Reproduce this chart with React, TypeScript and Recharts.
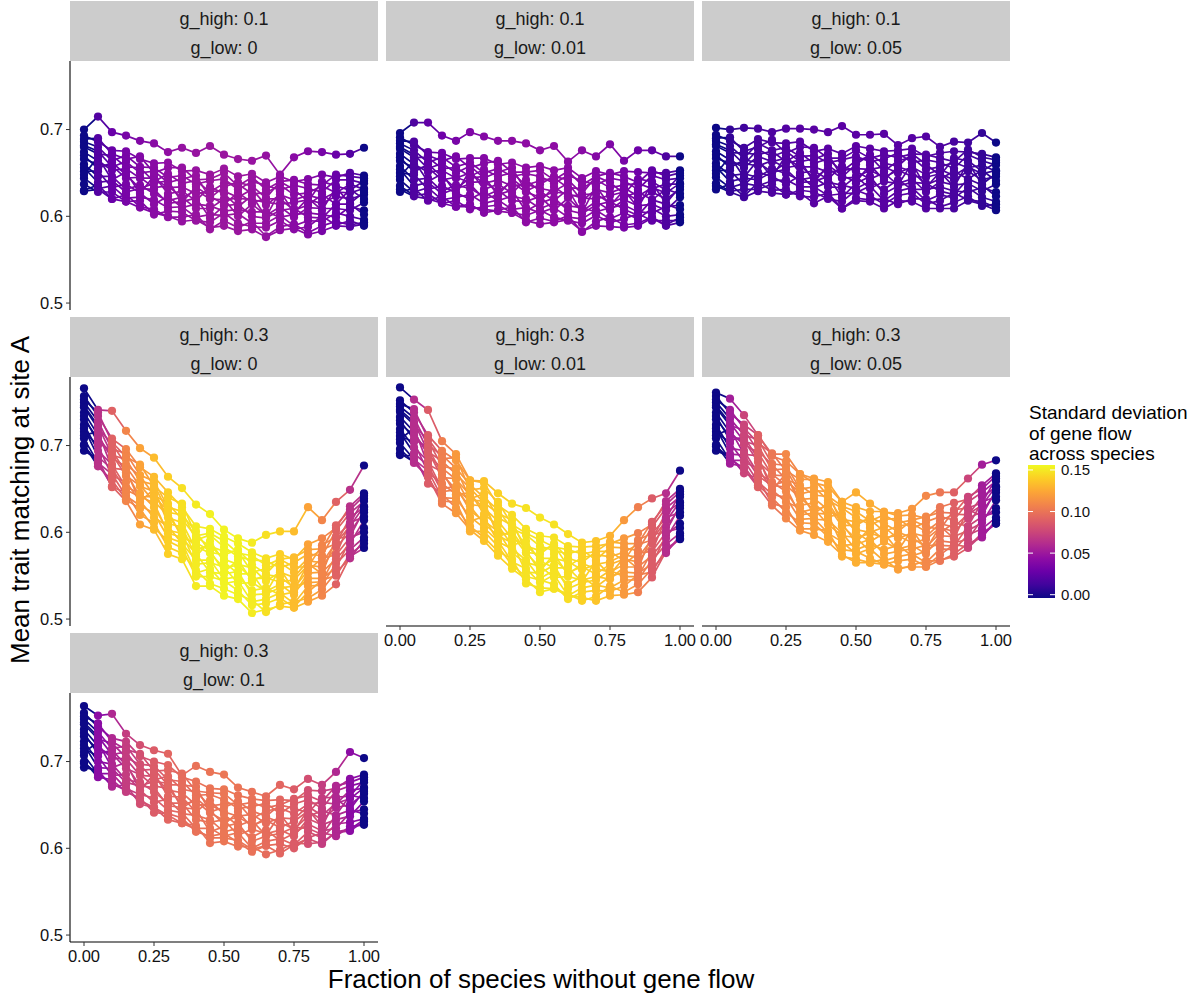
import React from "react";
import { ComposedChart, Line, XAxis, YAxis } from "recharts";

// ---------------- data ----------------
const FRACTION = [0, 0.05, 0.1, 0.15, 0.2, 0.25, 0.3, 0.35, 0.4, 0.45, 0.5, 0.55, 0.6, 0.65, 0.7, 0.75, 0.8, 0.85, 0.9, 0.95, 1];
const X_TICKS = [0, 0.25, 0.5, 0.75, 1];
const Y_TICKS = [0.5, 0.6, 0.7];
const LEGEND_TICKS = [0, 0.05, 0.1, 0.15];
const G_HIGH = ["0.1", "0.1", "0.1", "0.3", "0.3", "0.3", "0.3"];
const G_LOW = ["0", "0.01", "0.05", "0", "0.01", "0.05", "0.1"];

// standard deviation of gene flow across species (x1000), per fraction
const SD_1 = [0, 22, 30, 36, 40, 43, 46, 48, 49, 50, 50, 50, 49, 48, 46, 43, 40, 36, 30, 22, 0];
const SD_2 = [0, 20, 27, 32, 36, 39, 41, 43, 44, 45, 45, 45, 44, 43, 41, 39, 36, 32, 27, 20, 0];
const SD_3 = [0, 11, 15, 18, 20, 22, 23, 24, 24, 25, 25, 25, 24, 24, 23, 22, 20, 18, 15, 11, 0];
const SD_4 = [0, 65, 90, 107, 120, 130, 137, 143, 147, 149, 150, 149, 147, 143, 137, 130, 120, 107, 90, 65, 0];
const SD_5 = [0, 63, 87, 104, 116, 126, 133, 138, 142, 144, 145, 144, 142, 138, 133, 126, 116, 104, 87, 63, 0];
const SD_6 = [0, 54, 75, 89, 100, 108, 115, 119, 122, 124, 125, 124, 122, 119, 115, 108, 100, 89, 75, 54, 0];
const SD_7 = [0, 44, 60, 71, 80, 87, 92, 95, 98, 99, 100, 99, 98, 95, 92, 87, 80, 71, 60, 44, 0];

// mean trait matching at site A (x1000), one row per replicate
const REP_1 = [
  [700, 715, 697, 693, 687, 684, 674, 679, 673, 681, 671, 666, 664, 670, 648, 668, 675, 674, 671, 672, 679],
  [630, 636, 620, 625, 611, 608, 599, 599, 602, 585, 595, 587, 594, 577, 588, 591, 581, 589, 594, 590, 593],
  [644, 632, 635, 621, 622, 619, 610, 611, 599, 602, 601, 603, 592, 592, 601, 589, 595, 594, 604, 600, 596],
  [652, 652, 633, 637, 627, 614, 623, 610, 614, 612, 606, 608, 605, 605, 599, 602, 604, 602, 599, 611, 607],
  [660, 646, 646, 631, 636, 626, 618, 622, 609, 609, 620, 600, 614, 601, 611, 599, 610, 609, 609, 607, 616],
  [666, 660, 658, 644, 645, 633, 635, 621, 630, 620, 619, 621, 619, 616, 614, 616, 619, 615, 623, 620, 625],
  [674, 664, 653, 655, 644, 644, 633, 634, 626, 629, 629, 622, 631, 613, 625, 619, 624, 620, 628, 627, 632],
  [680, 672, 670, 657, 656, 640, 649, 638, 641, 628, 638, 637, 626, 627, 636, 625, 627, 635, 627, 637, 631],
  [686, 680, 664, 670, 657, 656, 645, 647, 637, 641, 643, 631, 640, 636, 630, 636, 632, 628, 642, 642, 638],
  [693, 686, 676, 675, 666, 661, 662, 652, 653, 648, 655, 646, 649, 639, 646, 640, 643, 648, 645, 650, 647],
  [629, 631, 620, 617, 610, 604, 600, 594, 596, 587, 589, 583, 585, 576, 584, 586, 579, 583, 589, 588, 591],
  [637, 628, 628, 617, 618, 602, 606, 605, 595, 593, 604, 592, 588, 587, 595, 585, 588, 600, 590, 595, 589],
  [656, 639, 641, 628, 632, 631, 615, 617, 621, 598, 612, 614, 600, 598, 607, 609, 599, 598, 614, 614, 602],
  [670, 655, 662, 648, 632, 638, 641, 616, 634, 623, 614, 627, 616, 620, 620, 607, 613, 625, 614, 631, 620],
  [648, 668, 642, 651, 626, 647, 626, 629, 618, 634, 626, 611, 624, 599, 629, 604, 621, 607, 633, 615, 628],
  [682, 675, 657, 663, 650, 652, 639, 643, 647, 621, 634, 639, 635, 621, 640, 631, 617, 640, 635, 630, 641],
  [689, 690, 672, 666, 669, 650, 656, 656, 642, 643, 650, 635, 645, 631, 640, 642, 637, 636, 648, 646, 644],
];
const REP_2 = [
  [696, 708, 708, 693, 687, 697, 692, 687, 687, 684, 676, 681, 663, 676, 669, 683, 664, 676, 676, 669, 669],
  [628, 632, 618, 623, 611, 614, 604, 607, 611, 593, 598, 594, 601, 582, 594, 599, 590, 592, 599, 590, 599],
  [642, 628, 633, 619, 622, 625, 615, 619, 608, 610, 604, 610, 599, 597, 607, 597, 604, 597, 609, 600, 602],
  [650, 648, 631, 635, 627, 620, 628, 618, 623, 620, 609, 615, 612, 610, 605, 610, 613, 605, 604, 611, 613],
  [658, 642, 644, 629, 636, 632, 623, 630, 618, 617, 623, 607, 621, 606, 617, 607, 619, 612, 614, 607, 622],
  [664, 656, 656, 642, 645, 639, 640, 629, 639, 628, 622, 628, 626, 621, 620, 624, 628, 618, 628, 620, 631],
  [672, 660, 651, 653, 644, 650, 638, 642, 635, 637, 632, 629, 638, 618, 631, 627, 633, 623, 633, 627, 638],
  [678, 668, 668, 655, 656, 646, 654, 646, 650, 636, 641, 644, 633, 632, 642, 633, 636, 638, 632, 637, 637],
  [684, 676, 662, 668, 657, 662, 650, 655, 646, 649, 646, 638, 647, 641, 636, 644, 641, 631, 647, 642, 644],
  [691, 682, 674, 673, 666, 667, 667, 660, 662, 656, 658, 653, 656, 644, 652, 648, 652, 651, 650, 650, 653],
  [631, 623, 620, 615, 611, 611, 608, 606, 604, 595, 591, 593, 596, 583, 589, 588, 587, 589, 598, 589, 593],
  [635, 624, 626, 615, 618, 608, 611, 613, 604, 601, 607, 599, 595, 592, 601, 593, 597, 603, 595, 595, 595],
  [654, 635, 639, 626, 632, 637, 620, 625, 630, 606, 615, 621, 607, 603, 613, 617, 608, 601, 619, 614, 608],
  [668, 651, 660, 646, 632, 644, 646, 624, 643, 631, 617, 634, 623, 625, 626, 615, 622, 628, 619, 631, 626],
  [646, 664, 640, 649, 626, 653, 631, 637, 627, 642, 629, 618, 631, 604, 635, 612, 630, 610, 638, 615, 634],
  [680, 671, 655, 661, 650, 658, 644, 651, 656, 629, 637, 646, 642, 626, 646, 639, 626, 643, 640, 630, 647],
  [687, 686, 670, 664, 669, 656, 661, 664, 651, 651, 653, 642, 652, 636, 646, 650, 646, 639, 653, 646, 650],
];
const REP_3 = [
  [702, 700, 702, 701, 697, 701, 701, 700, 697, 704, 694, 694, 695, 682, 690, 692, 680, 686, 685, 696, 685],
  [631, 637, 623, 639, 630, 631, 623, 622, 627, 609, 621, 619, 620, 614, 620, 620, 611, 616, 623, 612, 614],
  [645, 633, 638, 635, 641, 642, 634, 634, 624, 626, 627, 635, 618, 629, 633, 618, 625, 621, 633, 622, 617],
  [653, 653, 636, 651, 646, 637, 647, 633, 639, 636, 632, 640, 631, 642, 631, 631, 634, 629, 628, 633, 628],
  [661, 647, 649, 645, 655, 649, 642, 645, 634, 633, 646, 632, 640, 638, 643, 628, 640, 636, 638, 629, 637],
  [667, 661, 661, 658, 664, 656, 659, 644, 655, 644, 645, 653, 645, 653, 646, 645, 649, 642, 652, 642, 646],
  [675, 665, 656, 669, 663, 667, 657, 657, 651, 653, 655, 654, 657, 650, 657, 648, 654, 647, 657, 649, 653],
  [681, 673, 673, 671, 675, 663, 673, 661, 666, 652, 664, 669, 652, 664, 668, 654, 657, 662, 656, 659, 652],
  [687, 681, 667, 684, 676, 679, 669, 670, 662, 665, 669, 663, 666, 673, 662, 665, 662, 655, 671, 664, 659],
  [694, 687, 679, 689, 685, 684, 686, 675, 678, 672, 681, 678, 675, 676, 678, 669, 673, 675, 674, 672, 668],
  [635, 628, 622, 629, 627, 625, 627, 615, 623, 609, 618, 617, 609, 618, 617, 609, 609, 609, 618, 614, 607],
  [638, 629, 631, 631, 637, 625, 630, 628, 620, 617, 630, 624, 614, 624, 627, 614, 618, 627, 619, 617, 610],
  [657, 640, 644, 642, 651, 654, 639, 640, 646, 622, 638, 646, 626, 635, 639, 638, 629, 625, 643, 636, 623],
  [671, 656, 665, 662, 651, 661, 665, 639, 659, 647, 640, 659, 642, 657, 652, 636, 643, 652, 643, 653, 641],
  [649, 669, 645, 665, 645, 670, 650, 652, 643, 658, 652, 643, 650, 636, 661, 633, 651, 634, 662, 637, 649],
  [683, 676, 660, 677, 669, 675, 663, 666, 672, 645, 660, 671, 661, 658, 672, 660, 647, 667, 664, 652, 662],
  [690, 691, 675, 680, 688, 673, 680, 679, 667, 667, 676, 667, 671, 668, 672, 671, 667, 663, 677, 668, 665],
];
const REP_4 = [
  [766, 741, 740, 717, 697, 686, 664, 651, 632, 621, 603, 593, 588, 597, 601, 601, 629, 614, 635, 649, 677],
  [694, 684, 652, 646, 620, 611, 583, 576, 556, 541, 535, 528, 522, 508, 517, 520, 524, 534, 554, 570, 591],
  [708, 680, 667, 642, 631, 622, 594, 588, 553, 558, 541, 544, 520, 523, 530, 518, 538, 539, 564, 580, 594],
  [716, 700, 665, 658, 636, 617, 607, 587, 568, 568, 546, 549, 533, 536, 528, 531, 547, 547, 559, 591, 605],
  [724, 694, 678, 652, 645, 629, 602, 599, 563, 565, 560, 541, 542, 532, 540, 528, 553, 554, 569, 587, 614],
  [730, 708, 690, 665, 654, 636, 619, 598, 584, 576, 559, 562, 547, 547, 543, 545, 562, 560, 583, 600, 623],
  [738, 712, 685, 676, 653, 647, 617, 611, 580, 585, 569, 563, 559, 544, 554, 548, 567, 565, 588, 607, 630],
  [744, 720, 702, 678, 665, 643, 633, 615, 595, 584, 578, 578, 554, 558, 565, 554, 570, 580, 587, 617, 629],
  [750, 728, 696, 691, 666, 659, 629, 624, 591, 597, 583, 572, 568, 567, 559, 565, 575, 573, 602, 622, 636],
  [757, 734, 708, 696, 675, 664, 646, 629, 607, 604, 595, 587, 577, 570, 575, 569, 586, 593, 605, 630, 645],
  [700, 680, 653, 636, 609, 603, 575, 569, 538, 538, 527, 523, 507, 511, 515, 513, 520, 527, 540, 572, 582],
  [701, 676, 660, 638, 627, 605, 590, 582, 549, 549, 544, 533, 516, 518, 524, 514, 531, 545, 550, 575, 587],
  [720, 687, 673, 649, 641, 634, 599, 594, 575, 554, 552, 555, 528, 529, 536, 538, 542, 543, 574, 594, 600],
  [734, 703, 694, 669, 641, 641, 625, 593, 588, 579, 554, 568, 544, 551, 549, 536, 556, 570, 574, 611, 618],
  [712, 716, 674, 672, 635, 650, 610, 606, 572, 590, 566, 552, 552, 530, 558, 533, 564, 552, 593, 595, 626],
  [746, 723, 689, 684, 659, 655, 623, 620, 601, 577, 574, 580, 563, 552, 569, 560, 560, 585, 595, 610, 639],
  [753, 738, 704, 687, 678, 653, 640, 633, 596, 599, 590, 576, 573, 562, 569, 571, 580, 581, 608, 626, 642],
];
const REP_5 = [
  [767, 753, 741, 705, 690, 660, 659, 645, 633, 628, 617, 609, 598, 588, 590, 596, 614, 629, 639, 645, 671],
  [689, 688, 656, 644, 628, 607, 594, 578, 569, 541, 536, 535, 529, 521, 526, 538, 531, 540, 558, 576, 596],
  [703, 684, 671, 640, 639, 618, 605, 590, 566, 558, 542, 551, 527, 536, 539, 536, 545, 545, 568, 586, 599],
  [711, 704, 669, 656, 644, 613, 618, 589, 581, 568, 547, 556, 540, 549, 537, 549, 554, 553, 563, 597, 610],
  [719, 698, 682, 650, 653, 625, 613, 601, 576, 565, 561, 548, 549, 545, 549, 546, 560, 560, 573, 593, 619],
  [725, 712, 694, 663, 662, 632, 630, 600, 597, 576, 560, 569, 554, 560, 552, 563, 569, 566, 587, 606, 628],
  [733, 716, 689, 674, 661, 643, 628, 613, 593, 585, 570, 570, 566, 557, 563, 566, 574, 571, 592, 613, 635],
  [739, 724, 706, 676, 673, 639, 644, 617, 608, 584, 579, 585, 561, 571, 574, 572, 577, 586, 591, 623, 634],
  [745, 732, 700, 689, 674, 655, 640, 626, 604, 597, 584, 579, 575, 580, 568, 583, 582, 579, 606, 628, 641],
  [752, 738, 712, 694, 683, 660, 657, 631, 620, 604, 596, 594, 584, 583, 584, 587, 593, 599, 609, 636, 650],
  [691, 681, 664, 633, 622, 603, 590, 573, 558, 546, 531, 535, 527, 525, 521, 527, 528, 531, 548, 578, 593],
  [696, 680, 664, 636, 635, 601, 601, 584, 562, 549, 545, 540, 523, 531, 533, 532, 538, 551, 554, 581, 592],
  [715, 691, 677, 647, 649, 630, 610, 596, 588, 554, 553, 562, 535, 542, 545, 556, 549, 549, 578, 600, 605],
  [729, 707, 698, 667, 649, 637, 636, 595, 601, 579, 555, 575, 551, 564, 558, 554, 563, 576, 578, 617, 623],
  [707, 720, 678, 670, 643, 646, 621, 608, 585, 590, 567, 559, 559, 543, 567, 551, 571, 558, 597, 601, 631],
  [741, 727, 693, 682, 667, 651, 634, 622, 614, 577, 575, 587, 570, 565, 578, 578, 567, 591, 599, 616, 644],
  [748, 742, 708, 685, 686, 649, 651, 635, 609, 599, 591, 583, 580, 575, 578, 589, 587, 587, 612, 632, 647],
];
const REP_6 = [
  [761, 754, 735, 712, 690, 690, 667, 662, 658, 635, 646, 633, 623, 622, 627, 642, 646, 646, 662, 678, 683],
  [694, 687, 668, 662, 633, 629, 604, 604, 602, 572, 569, 565, 569, 557, 562, 567, 567, 575, 587, 594, 614],
  [708, 683, 683, 658, 644, 640, 615, 616, 599, 589, 575, 581, 567, 572, 575, 565, 581, 580, 597, 604, 617],
  [716, 703, 681, 674, 649, 635, 628, 615, 614, 599, 580, 586, 580, 585, 573, 578, 590, 588, 592, 615, 628],
  [724, 697, 694, 668, 658, 647, 623, 627, 609, 596, 594, 578, 589, 581, 585, 575, 596, 595, 602, 611, 637],
  [730, 711, 706, 681, 667, 654, 640, 626, 630, 607, 593, 599, 594, 596, 588, 592, 605, 601, 616, 624, 646],
  [738, 715, 701, 692, 666, 665, 638, 639, 626, 616, 603, 600, 606, 593, 599, 595, 610, 606, 621, 631, 653],
  [744, 723, 718, 694, 678, 661, 654, 643, 641, 615, 612, 615, 601, 607, 610, 601, 613, 621, 620, 641, 652],
  [750, 731, 712, 707, 679, 677, 650, 652, 637, 628, 617, 609, 615, 616, 604, 612, 618, 614, 635, 646, 659],
  [757, 737, 724, 712, 688, 682, 667, 657, 653, 635, 629, 624, 624, 619, 620, 616, 629, 634, 638, 654, 668],
  [699, 685, 673, 652, 631, 616, 602, 597, 589, 574, 565, 565, 563, 559, 560, 560, 568, 572, 582, 597, 610],
  [701, 679, 676, 654, 640, 623, 611, 610, 595, 580, 578, 570, 563, 567, 569, 561, 574, 586, 583, 599, 610],
  [720, 690, 689, 665, 654, 652, 620, 622, 621, 585, 586, 592, 575, 578, 581, 585, 585, 584, 607, 618, 623],
  [734, 706, 710, 685, 654, 659, 646, 621, 634, 610, 588, 605, 591, 600, 594, 583, 599, 611, 607, 635, 641],
  [712, 719, 690, 688, 648, 668, 631, 634, 618, 621, 600, 589, 599, 579, 603, 580, 607, 593, 626, 619, 649],
  [746, 726, 705, 700, 672, 673, 644, 648, 647, 608, 608, 617, 610, 601, 614, 607, 603, 626, 628, 634, 662],
  [753, 741, 720, 703, 691, 671, 661, 661, 642, 630, 624, 613, 620, 611, 614, 618, 623, 622, 641, 650, 665],
];
const REP_7 = [
  [764, 753, 755, 732, 719, 713, 709, 684, 695, 688, 685, 670, 665, 660, 673, 668, 680, 673, 688, 711, 704],
  [693, 690, 671, 673, 651, 647, 633, 629, 626, 606, 608, 602, 602, 593, 598, 606, 605, 607, 618, 620, 631],
  [707, 686, 686, 669, 662, 658, 644, 641, 623, 623, 614, 618, 600, 608, 611, 604, 619, 612, 628, 630, 634],
  [715, 706, 684, 685, 667, 653, 657, 640, 638, 633, 619, 623, 613, 621, 609, 617, 628, 620, 623, 641, 645],
  [723, 700, 697, 679, 676, 665, 652, 652, 633, 630, 633, 615, 622, 617, 621, 614, 634, 627, 633, 637, 654],
  [729, 714, 709, 692, 685, 672, 669, 651, 654, 641, 632, 636, 627, 632, 624, 631, 643, 633, 647, 650, 663],
  [737, 718, 704, 703, 684, 683, 667, 664, 650, 650, 642, 637, 639, 629, 635, 634, 648, 638, 652, 657, 670],
  [743, 726, 721, 705, 696, 679, 683, 668, 665, 649, 651, 652, 634, 643, 646, 640, 651, 653, 651, 667, 669],
  [749, 734, 715, 718, 697, 695, 679, 677, 661, 662, 656, 646, 648, 652, 640, 651, 656, 646, 666, 672, 676],
  [756, 740, 727, 723, 706, 700, 696, 682, 677, 669, 668, 661, 657, 655, 656, 655, 667, 666, 669, 680, 685],
  [698, 686, 674, 667, 655, 647, 638, 629, 622, 612, 612, 609, 599, 603, 594, 604, 611, 605, 619, 622, 633],
  [700, 682, 679, 665, 658, 641, 640, 635, 619, 614, 617, 607, 596, 603, 605, 600, 612, 618, 614, 625, 627],
  [719, 693, 692, 676, 672, 670, 649, 647, 645, 619, 625, 629, 608, 614, 617, 624, 623, 616, 638, 644, 640],
  [733, 709, 713, 696, 672, 677, 675, 646, 658, 644, 627, 642, 624, 636, 630, 622, 637, 643, 638, 661, 658],
  [711, 722, 693, 699, 666, 686, 660, 659, 642, 655, 639, 626, 632, 615, 639, 619, 645, 625, 657, 645, 666],
  [745, 729, 708, 711, 690, 691, 673, 673, 671, 642, 647, 654, 643, 637, 650, 646, 641, 658, 659, 660, 679],
  [752, 744, 723, 714, 709, 689, 690, 686, 666, 664, 663, 650, 653, 647, 650, 657, 661, 654, 672, 676, 682],
];

const SDS = [SD_1, SD_2, SD_3, SD_4, SD_5, SD_6, SD_7];
const REPS = [REP_1, REP_2, REP_3, REP_4, REP_5, REP_6, REP_7];

// ---------------- styling / layout ----------------
const FONT = "'Liberation Sans', Arial, Helvetica, sans-serif";
const PANEL_LEFT = [70, 386, 702];
const STRIP_TOP = [1, 317, 633];
const STRIP_H = 60;
const PANEL_W = 308;
const PANEL_H = 249;
const Y_AXIS_W = 70;
const X_AXIS_H = 34;
const PAD = 22;
const X_DOMAIN = [-0.05, 1.05];
const Y_DOMAIN = [0.492, 0.779];
const SD_MAX = 0.152;
const DOT_R = 4.1;
const LINE_W = 1.7;

const PLASMA = ["#0d0887", "#41049d", "#6a00a8", "#8f0da4", "#b12a90", "#cc4778", "#e16462", "#f2844b", "#fca636", "#fcce25", "#f0f921"];

function hexRgb(h: string) {
  return [parseInt(h.slice(1, 3), 16), parseInt(h.slice(3, 5), 16), parseInt(h.slice(5, 7), 16)];
}
function plasma(t: number) {
  const tt = Math.max(0, Math.min(1, t));
  const p = tt * (PLASMA.length - 1);
  const i = Math.min(Math.floor(p), PLASMA.length - 2);
  const f = p - i;
  const a = hexRgb(PLASMA[i]);
  const b = hexRgb(PLASMA[i + 1]);
  const c = a.map((v, k) => Math.round(v + (b[k] - v) * f));
  return `rgb(${c[0]},${c[1]},${c[2]})`;
}
const sdColor = (sdThousandths: number) => plasma(sdThousandths / 1000 / SD_MAX);

const FACETS = G_HIGH.map((h, i) => ({ high: h, low: G_LOW[i], sd: SDS[i], reps: REPS[i] }));

function Panel({ facet, index }: { facet: any; index: number }) {
  const row = Math.floor(index / 3);
  const col = index % 3;
  const showY = col === 0;
  const showX = row === 2 || (row === 1 && col > 0);
  const left = PANEL_LEFT[col] - (showY ? Y_AXIS_W : 0) - PAD;
  const top = STRIP_TOP[row] + STRIP_H - PAD;
  const width = PANEL_W + (showY ? Y_AXIS_W : 0) + 2 * PAD;
  const height = PANEL_H + (showX ? X_AXIS_H : 0) + 2 * PAD;
  const data = FRACTION.map((x, i) => {
    const r: any = { x, sd: facet.sd[i] / 1000 };
    facet.reps.forEach((rep: number[], k: number) => {
      r["r" + k] = rep[i] / 1000;
    });
    return r;
  });
  const renderDot = (props: any) => {
    const { cx, cy, index: idx, dataKey } = props;
    if (cx == null || cy == null) return <g key={`e-${dataKey}-${idx}`} />;
    return <circle key={`d-${dataKey}-${idx}`} cx={cx} cy={cy} r={DOT_R} fill={sdColor(facet.sd[idx])} />;
  };
  const tickStyle = { fill: "#111", fontSize: 16.5, fontFamily: FONT };
  return (
    <div style={{ position: "absolute", left, top }}>
      <ComposedChart width={width} height={height} data={data} margin={{ top: PAD, right: PAD, bottom: PAD, left: PAD }}>
        <XAxis
          dataKey="x"
          type="number"
          domain={X_DOMAIN}
          ticks={X_TICKS}
          interval={0}
          hide={!showX}
          height={X_AXIS_H}
          tickSize={4}
          tickMargin={4}
          axisLine={{ stroke: "#000", strokeWidth: 1.1 }}
          tickLine={{ stroke: "#333" }}
          tick={tickStyle}
          tickFormatter={(v: number) => v.toFixed(2)}
        />
        <YAxis
          type="number"
          domain={Y_DOMAIN}
          ticks={Y_TICKS}
          interval={0}
          hide={!showY}
          width={Y_AXIS_W}
          tickSize={4}
          tickMargin={3}
          axisLine={{ stroke: "#000", strokeWidth: 1.1 }}
          tickLine={{ stroke: "#333" }}
          tick={tickStyle}
          tickFormatter={(v: number) => v.toFixed(1)}
        />
        {facet.reps.map((_: any, k: number) => (
          <Line
            key={"l" + k}
            dataKey={"r" + k}
            type="linear"
            stroke={`url(#grad-${index})`}
            strokeWidth={LINE_W}
            dot={false}
            activeDot={false}
            isAnimationActive={false}
          />
        ))}
        {facet.reps.map((_: any, k: number) => (
          <Line
            key={"p" + k}
            dataKey={"r" + k}
            type="linear"
            stroke="none"
            dot={renderDot}
            activeDot={false}
            isAnimationActive={false}
          />
        ))}
      </ComposedChart>
    </div>
  );
}

function Overlay() {
  const legendY = (v: number) => 594.7 - (v / SD_MAX) * 126.4;
  return (
    <svg width={1202} height={997} style={{ position: "absolute", left: 0, top: 0 }}>
      <defs>
        {FACETS.map((f, i) => (
          <linearGradient key={i} id={`grad-${i}`} x1="0" y1="0" x2="1" y2="0">
            {FRACTION.slice(0, -1).flatMap((x, j) => [
              <stop key={`a${j}`} offset={x} stopColor={sdColor(f.sd[j])} />,
              <stop key={`b${j}`} offset={FRACTION[j + 1]} stopColor={sdColor(f.sd[j])} />,
            ])}
          </linearGradient>
        ))}
        <linearGradient id="legend-grad" x1="0" y1="1" x2="0" y2="0">
          {PLASMA.map((c, k) => (
            <stop key={k} offset={k / (PLASMA.length - 1)} stopColor={c} />
          ))}
        </linearGradient>
      </defs>
      {FACETS.map((f, i) => {
        const row = Math.floor(i / 3);
        const col = i % 3;
        const x = PANEL_LEFT[col];
        const y = STRIP_TOP[row];
        return (
          <g key={i}>
            <rect x={x} y={y} width={PANEL_W} height={STRIP_H} fill="#cccccc" />
            <text x={x + PANEL_W / 2} y={y + 24} textAnchor="middle" fontSize={18} fontFamily={FONT} fill="#1a1a1a">
              {`g_high: ${f.high}`}
            </text>
            <text x={x + PANEL_W / 2} y={y + 53} textAnchor="middle" fontSize={18} fontFamily={FONT} fill="#1a1a1a">
              {`g_low: ${f.low}`}
            </text>
          </g>
        );
      })}
      <text x={541} y={988} textAnchor="middle" fontSize={26} fontFamily={FONT} fill="#000">
        Fraction of species without gene flow
      </text>
      <text x={29} y={500} transform="rotate(-90 29 500)" textAnchor="middle" fontSize={26} fontFamily={FONT} fill="#000">
        Mean trait matching at site A
      </text>
      <g fontFamily={FONT} fill="#000" fontSize={19}>
        <text x={1029} y={419}>Standard deviation</text>
        <text x={1029} y={439.5}>of gene flow</text>
        <text x={1029} y={460}>across species</text>
      </g>
      <rect x={1028} y={465} width={27} height={133} fill="url(#legend-grad)" />
      {LEGEND_TICKS.map((v) => (
        <g key={v}>
          <line x1={1028} x2={1033} y1={legendY(v)} y2={legendY(v)} stroke="#fff" strokeWidth={1} />
          <line x1={1050} x2={1055} y1={legendY(v)} y2={legendY(v)} stroke="#fff" strokeWidth={1} />
          <text x={1061} y={legendY(v)} dy="0.36em" fontSize={15} fontFamily={FONT} fill="#111">
            {v.toFixed(2)}
          </text>
        </g>
      ))}
    </svg>
  );
}

export default function App() {
  return (
    <div style={{ position: "absolute", left: 0, top: 0, width: 1202, height: 997, background: "#fff", fontFamily: FONT }}>
      <Overlay />
      {FACETS.map((f, i) => (
        <Panel key={i} facet={f} index={i} />
      ))}
    </div>
  );
}
